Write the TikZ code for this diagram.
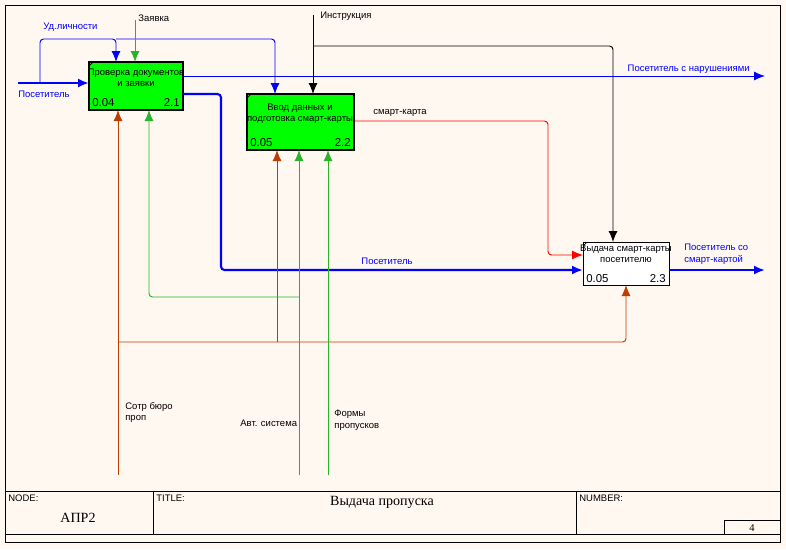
\documentclass[tikz,border=0pt]{standalone}
\usepackage{fontspec}
\setmainfont{Liberation Sans}
\newfontfamily\serifrm{Liberation Serif}
\usetikzlibrary{arrows.meta,positioning}
\definecolor{bg}{RGB}{255,248,240}
\definecolor{boxgreen}{RGB}{0,255,0}
\definecolor{arblue}{RGB}{0,0,255}
\definecolor{argreen}{RGB}{40,180,40}
\definecolor{arbrown}{RGB}{190,60,0}
\tikzset{
  lbl/.style={font=\fontsize{5.4}{6.4}\selectfont, inner sep=0pt, align=left},
  num/.style={font=\fontsize{6.5}{7}\selectfont, inner sep=0pt},
  mech/.style={-{Latex[length=2.2mm,width=1.8mm]}, line width=0.55pt, rounded corners=2pt},
  flow/.style={-{Latex[length=2.2mm,width=1.8mm]}, very thick, arblue, rounded corners=2pt},
}
\begin{document}
\begin{tikzpicture}[x=0.02cm, y=-0.02cm]

	\fill[bg] (0,0) rectangle (786,549);
	\useasboundingbox (0,0) rectangle (786,549);

	% frame
	\draw (5,5) rectangle (780,542);
	\draw (5,491) -- (780,491);
	\draw (5,534) -- (780,534);
	\draw (153,491) -- (153,534);
	\draw (576,491) -- (576,534);
	\draw (724,534) -- (724,520) -- (780,520);
	\node[lbl, anchor=north west] at (8,495) {NODE:};
	\node[lbl, anchor=north west] at (156,495) {TITLE:};
	\node[lbl, anchor=north west] at (579,495) {NUMBER:};
	\node[font=\serifrm\fontsize{8}{9}\selectfont] at (78,518) {АПР2};
	\node[font=\serifrm\fontsize{8}{9}\selectfont] at (382,502) {Выдача пропуска};
	\node[font=\serifrm\fontsize{6}{7}\selectfont] at (752,528) {4};

	% activities
	\draw[fill=boxgreen, thick] (89,62) rectangle (183,110);
	\draw (89,66) -- (93,62);
	\node[lbl, align=center] (A1) at (136,78) {Проверка документов\\и заявки};
	\node[num, anchor=south west] at (92,107) {0.04};
	\node[num, anchor=south east] at (180,107) {2.1};

	\draw[fill=boxgreen, thick] (247,94) rectangle (354,150);
	\draw (247,98) -- (251,94);
	\node[lbl, align=center] (A2) at (300,114) {Ввод данных  и\\подготовка смарт-карты};
	\node[num, anchor=south west] at (250,147) {0.05};
	\node[num, anchor=south east] at (351,147) {2.2};

	\draw[fill=white, thin] (583,242) rectangle (669,285);
	\draw (583,246) -- (587,242);
	\node[lbl, align=center] (A3) at (626,254) {Выдача смарт-карты\\посетителю};
	\node[num, anchor=south west] at (586,283) {0.05};
	\node[num, anchor=south east] at (666,283) {2.3};

	% inputs and outputs
	\draw[flow] (18,83) -- (89,83);
	\node[lbl, arblue, anchor=north west] at (18,91) {Посетитель};
	\draw[mech, arblue] (40,83) -- (40,39) -- (116,39) -- (116,62);
	\draw[mech, arblue] (116,39) -- (275,39) -- (275,94);
	\node[lbl, arblue, anchor=south west] at (43,32) {Уд.личности};
	\draw[mech, argreen] (135,20) -- (135,62);
	\node[lbl, anchor=south west] at (138,22) {Заявка};
	\draw[mech, black] (313,15) -- (313,94);
	\draw[mech, black] (313,46) -- (613,46) -- (613,242);
	\node[lbl, anchor=south west] at (320,21) {Инструкция};

	\draw[mech, arblue] (183,76) -- (765,76);
	\node[lbl, arblue, anchor=south east] at (750,74) {Посетитель с нарушениями};
	\draw[flow] (183,94) -- (221,94) -- (221,270) -- (583,270);
	\node[lbl, arblue, anchor=south] at (387,265) {Посетитель};
	\draw[mech, red] (354,121) -- (548,121) -- (548,255) -- (583,255);
	\node[lbl, anchor=south west] at (373,117) {смарт-карта};
	\draw[flow] (669,270) -- (765,270);
	\node[lbl, arblue, anchor=north west] at (684,244) {Посетитель со\\смарт-картой};

	% mechanisms
	\draw[mech, arbrown] (118,475) -- (118,110);
	\draw[mech, arbrown] (118,342) -- (626,342) -- (626,285);
	\draw[mech, arbrown] (277,342) -- (277,150);
	\node[lbl, anchor=north west] at (125,402) {Сотр бюро\\проп};
	\draw[mech, argreen] (299,475) -- (299,150);
	\draw[mech, argreen] (299,297) -- (149,297) -- (149,110);
	\node[lbl, anchor=north west] at (240,420) {Авт. система};
	\draw[mech, argreen] (328,475) -- (328,150);
	\node[lbl, anchor=north west] at (334,410) {Формы\\пропусков};

\end{tikzpicture}
\end{document}
